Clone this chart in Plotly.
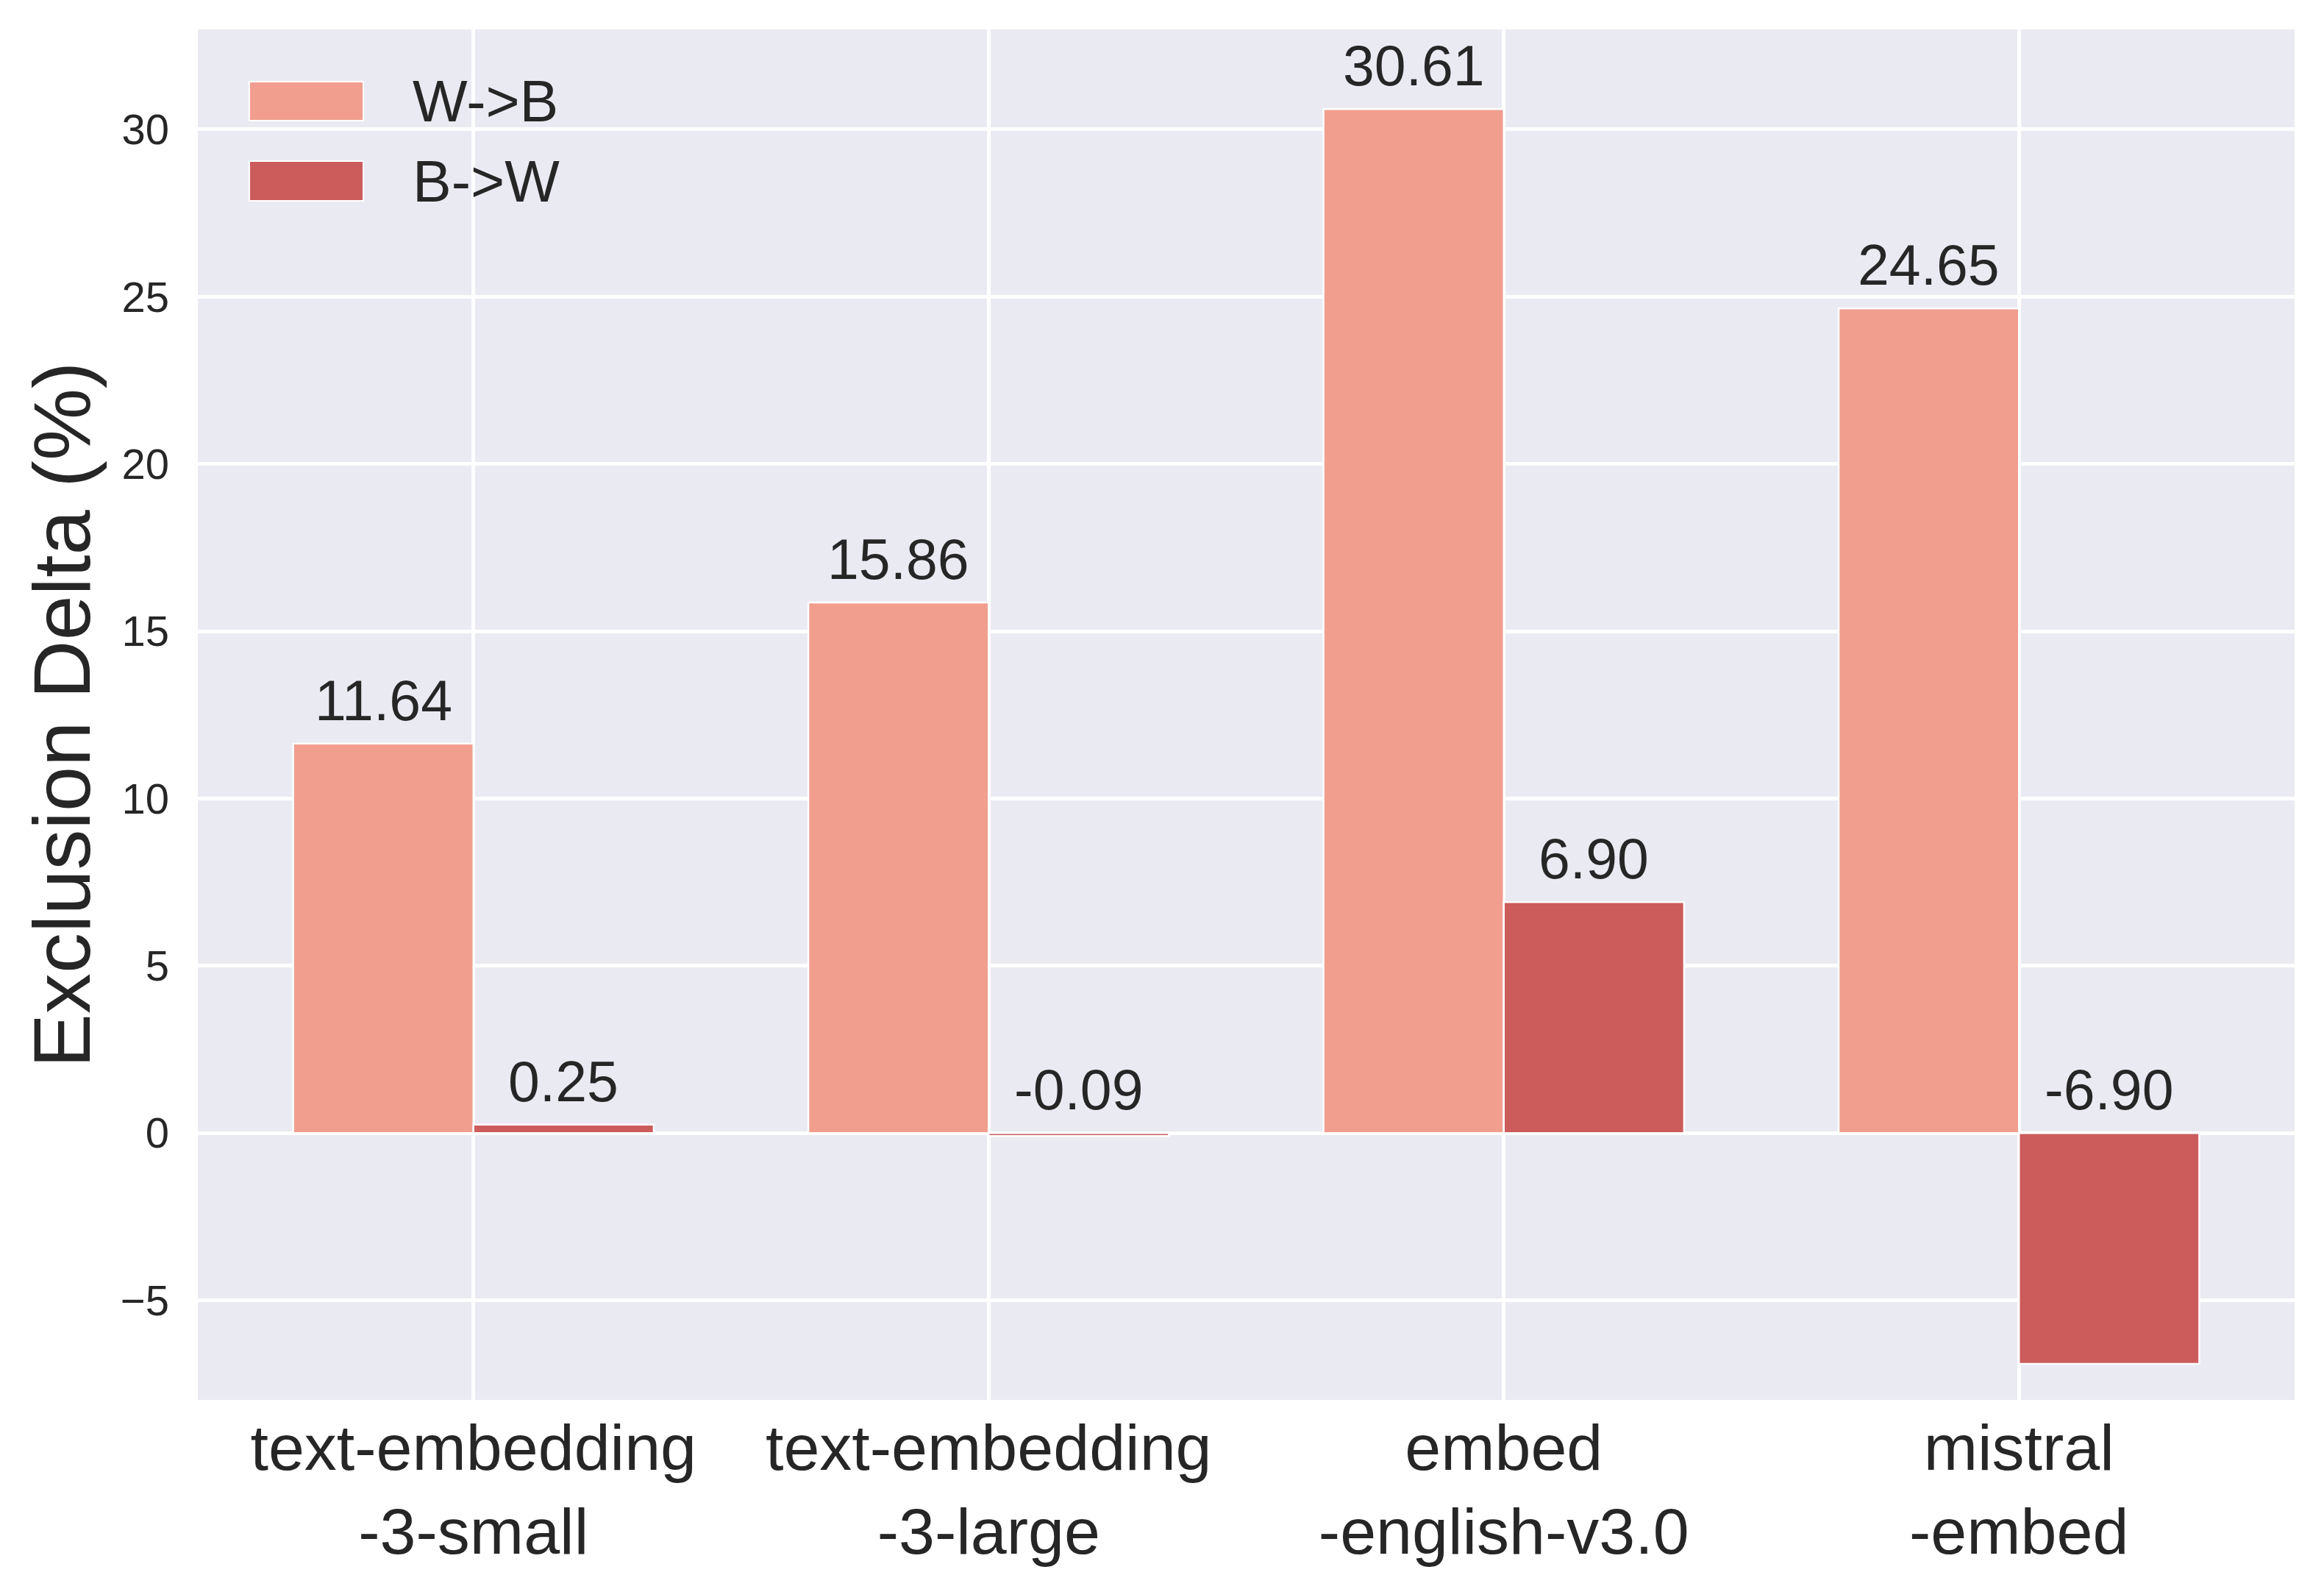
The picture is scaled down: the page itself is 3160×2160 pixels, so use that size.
import plotly.graph_objects as go

# data
models = ["text-embedding<br>-3-small", "text-embedding<br>-3-large",
          "embed<br>-english-v3.0", "mistral<br>-embed"]
w_to_b = [11.64, 15.86, 30.61, 24.65]
b_to_w = [0.25, -0.09, 6.90, -6.90]
series_names = ["W->B", "B->W"]
colors = ["#F19E8E", "#CC5C5C"]

# page body has an 8px default margin, so the figure is shrunk to fit
OFF = 8
W, H = 3160 - 2 * OFF, 2160 - 2 * OFF
ML, MR, MT, MB = 261, 32, 32, 249
PW, PH = W - ML - MR, H - MT - MB
BAR_W = 0.35
FONT = "Liberation Sans, Arial, sans-serif"
INK = "#262626"


def px(x):
    # screen pixel -> paper fraction
    return (x - OFF - ML) / PW


def py(y):
    return 1 - (y - OFF - MT) / PH


xs = list(range(len(models)))

fig = go.Figure()
for name, vals, col in zip(series_names, [w_to_b, b_to_w], colors):
    fig.add_trace(go.Bar(
        x=xs, y=vals, name=name, marker_color=col,
        marker_line=dict(color="white", width=2.5),
        showlegend=False,
    ))

# value labels above each bar (at zero for negative bars)
annotations = []
for k, vals in enumerate([w_to_b, b_to_w]):
    off = -BAR_W / 2 if k == 0 else BAR_W / 2
    for i, v in enumerate(vals):
        annotations.append(dict(
            x=i + off, y=max(v, 0), xref="x", yref="y",
            text=f"{v:.2f}", showarrow=False, yanchor="bottom",
            yshift=14, font=dict(size=77, color=INK, family=FONT),
        ))

# legend drawn by hand so the patches match the reference size
shapes = []
legend_rows = [(111, 164), (219, 273)]
for (y0, y1), name, col in zip(legend_rows, series_names, colors):
    shapes.append(dict(
        type="rect", xref="paper", yref="paper",
        x0=px(339), x1=px(494), y0=py(y1), y1=py(y0),
        fillcolor=col, line=dict(color="white", width=2),
    ))
    annotations.append(dict(
        x=px(559), y=py((y0 + y1) / 2), xref="paper", yref="paper",
        text=name, showarrow=False, xanchor="left", yanchor="middle",
        font=dict(size=79, color=INK, family=FONT),
    ))

fig.update_layout(
    width=W, height=H,
    margin=dict(l=ML, r=MR, t=MT, b=MB, autoexpand=False),
    paper_bgcolor="white", plot_bgcolor="#EAEAF2",
    barmode="group", bargap=0.3, bargroupgap=0,
    font=dict(family=FONT, color=INK),
    annotations=annotations, shapes=shapes,
    xaxis=dict(
        range=[-0.535, 3.535], tickmode="array", tickvals=xs, ticktext=models,
        showgrid=True, gridcolor="white", gridwidth=5, zeroline=False,
        ticks="", ticklabelstandoff=6,
        tickfont=dict(size=88, color=INK, family=FONT),
    ),
    yaxis=dict(
        range=[-7.98, 32.99], dtick=5, tick0=0,
        showgrid=True, gridcolor="white", gridwidth=5,
        zeroline=True, zerolinecolor="white", zerolinewidth=5,
        ticks="", ticklabelstandoff=38,
        tickfont=dict(size=58, color=INK, family=FONT),
        title=dict(text="Exclusion Delta (%)", standoff=4,
                   font=dict(size=110, color=INK, family=FONT)),
    ),
)

fig.write_html("out.html")
